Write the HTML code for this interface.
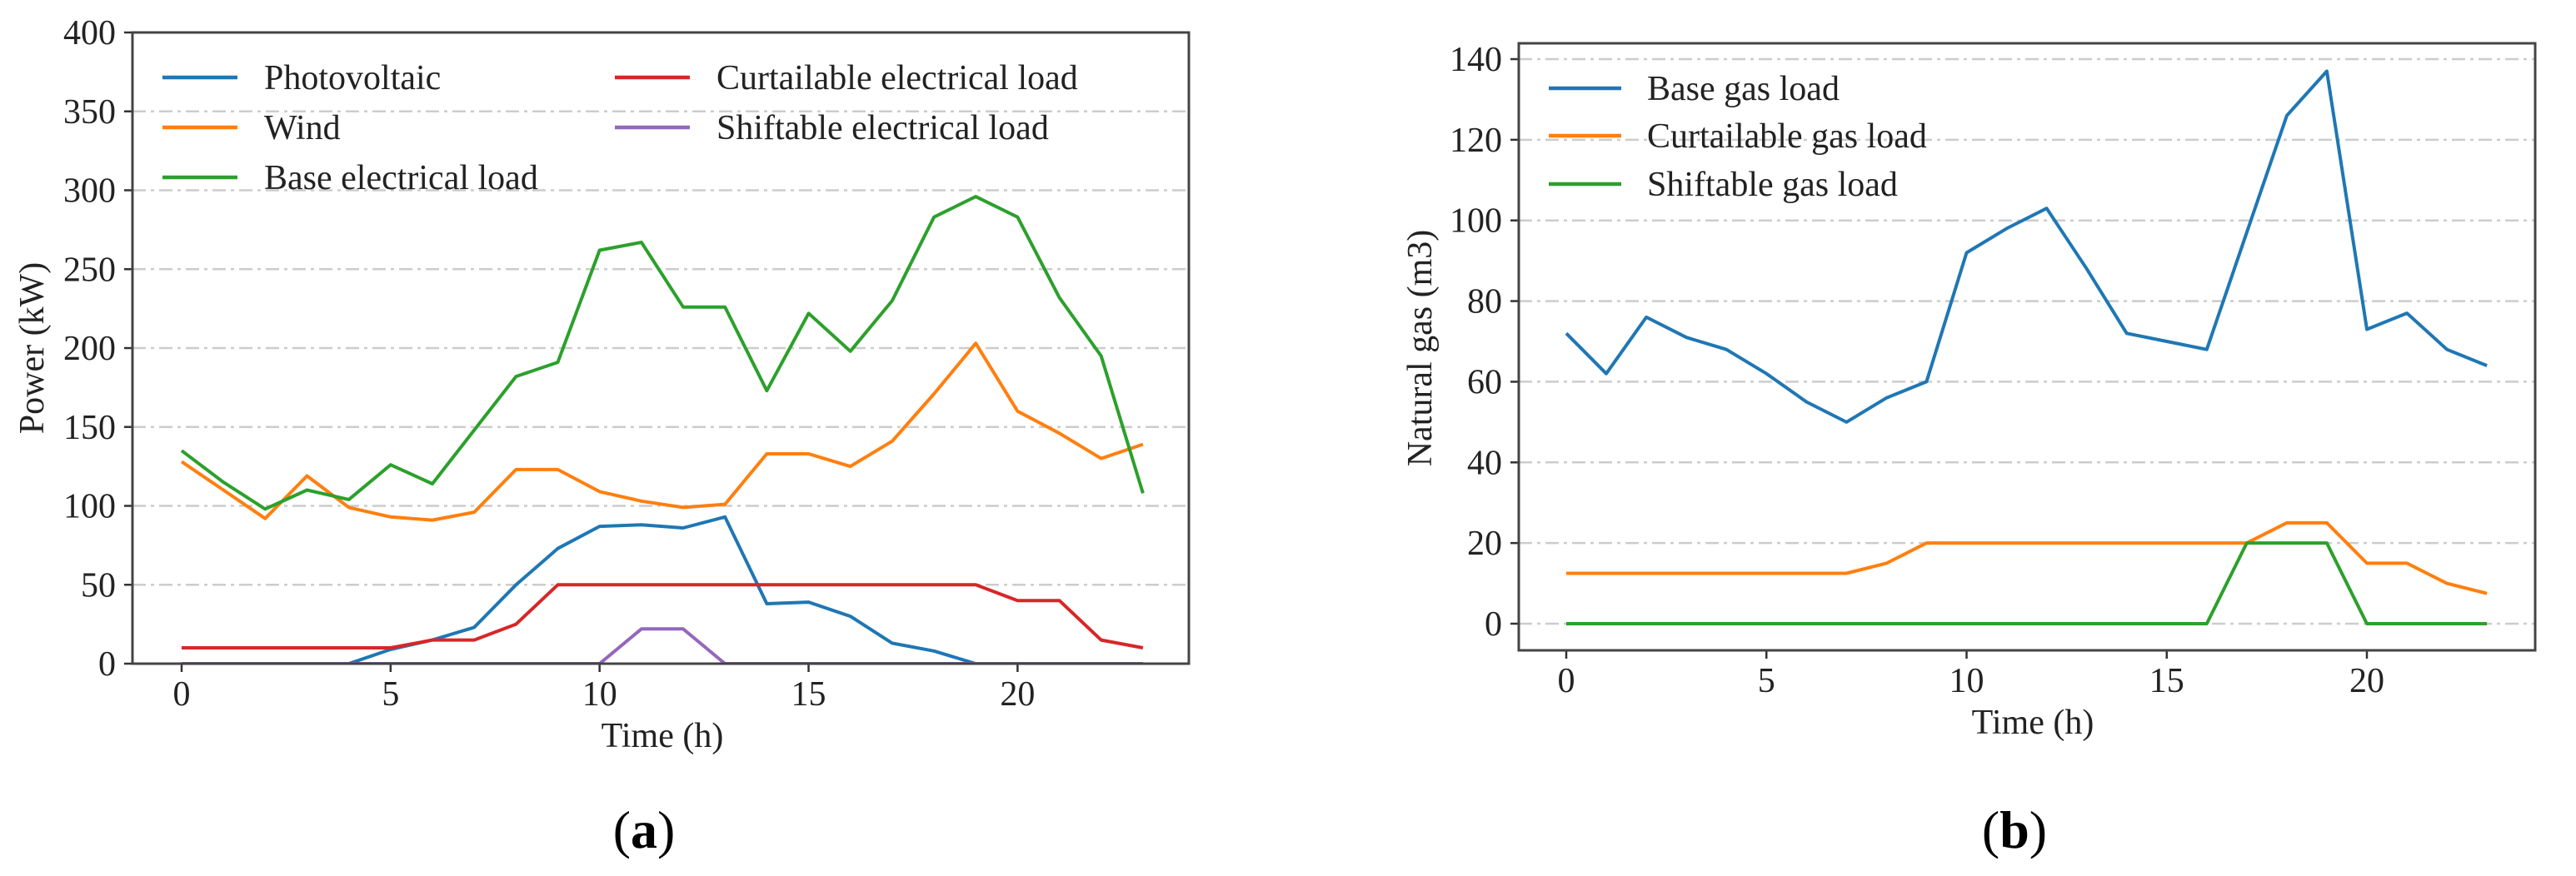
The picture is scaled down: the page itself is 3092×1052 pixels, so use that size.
<!DOCTYPE html>
<html><head><meta charset="utf-8"><style>
html,body{margin:0;padding:0;background:#fff;}
svg{display:block;font-family:"Liberation Serif",serif;}
</style></head><body>
<svg id="fig" width="3092" height="1052" viewBox="0 0 3092 1052" xmlns="http://www.w3.org/2000/svg"></svg>
<script>
const hours = [0,1,2,3,4,5,6,7,8,9,10,11,12,13,14,15,16,17,18,19,20,21,22,23];
const pvValues = [0,0,0,0,0,9,15,23,50,73,87,88,86,93,38,39,30,13,8,0,0,0,0,0];
const windValues = [128,110,92,119,99,93,91,96,123,123,109,103,99,101,133,133,125,141,171,203,160,146,130,139];
const baseElecValues = [135,115,98,110,104,126,114,148,182,191,262,267,226,226,173,222,198,230,283,296,283,232,195,108];
const curtElecValues = [10,10,10,10,10,10,15,15,25,50,50,50,50,50,50,50,50,50,50,50,40,40,15,10];
const shiftElecValues = [0,0,0,0,0,0,0,0,0,0,0,22,22,0,0,0,0,0,0,0,0,0,0,0];
const baseGasValues = [72,62,76,71,68,62,55,50,56,60,92,98,103,88,72,70,68,97,126,137,73,77,68,64];
const curtGasValues = [12.5,12.5,12.5,12.5,12.5,12.5,12.5,12.5,15,20,20,20,20,20,20,20,20,20,25,25,15,15,10,7.5];
const shiftGasValues = [0,0,0,0,0,0,0,0,0,0,0,0,0,0,0,0,0,20,20,20,0,0,0,0];
const xTicks = [0,5,10,15,20];
const yTicksA = [0,50,100,150,200,250,300,350,400];
const yTicksB = [0,20,40,60,80,100,120,140];

const NS="http://www.w3.org/2000/svg";
const svg=document.getElementById('fig');
function mk(tag,attrs,parent){const e=document.createElementNS(NS,tag);for(const k in attrs)e.setAttribute(k,attrs[k]);(parent||svg).appendChild(e);return e;}

function panel(cfg){
  const g=mk('g',{});
  
  
  const sx=h=>cfg.x0+h*cfg.xs;
  const sy=v=>cfg.y0-v*cfg.ys;
  cfg.yTicks.forEach(t=>{
    const y=sy(t);
    const l=mk('line',{x1:cfg.L,x2:cfg.R,y1:y,y2:y,stroke:'#cccccc','stroke-width':2.5,'stroke-dasharray':'16 6 4 6'},g);
    
    
    const tk=mk('line',{x1:cfg.L-10,x2:cfg.L,y1:y,y2:y,stroke:'#333','stroke-width':2.5},g);
    
    
    const tx=mk('text',{x:cfg.L-20,y:y+14,'text-anchor':'end','font-size':42,fill:'#222'},g);
    tx.textContent=t;
    
    
  });
  xTicks.forEach(t=>{
    const x=sx(t);
    const tk=mk('line',{x1:x,x2:x,y1:cfg.B,y2:cfg.B+10,stroke:'#333','stroke-width':2.5},g);
    
    
    const tx=mk('text',{x:x,y:cfg.B+50,'text-anchor':'middle','font-size':42,fill:'#222'},g);
    tx.textContent=t;
    
    
  });
  const clipId='clip'+cfg.name;
  const cp=mk('clipPath',{id:clipId},g);
  mk('rect',{x:cfg.L,y:cfg.T,width:cfg.R-cfg.L,height:cfg.B-cfg.T},cp);
  cfg.series.forEach(s=>{
    const pts=hours.map((h,i)=>sx(h).toFixed(1)+','+sy(s.vals[i]).toFixed(1)).join(' ');
    const p=mk('polyline',{points:pts,fill:'none',stroke:s.color,'stroke-width':4,'stroke-linejoin':'round','clip-path':'url(#'+clipId+')'},g);
    
    
  });
  const box=mk('rect',{x:cfg.L,y:cfg.T,width:cfg.R-cfg.L,height:cfg.B-cfg.T,fill:'none',stroke:'#444','stroke-width':3},g);
  
  
  cfg.legend.forEach(le=>{
    const l=mk('line',{x1:le.x,x2:le.x+cfg.sw,y1:le.y,y2:le.y,stroke:le.color,'stroke-width':4.5},g);
    
    
    const t=mk('text',{x:le.tx,y:le.y+14,'font-size':42,fill:'#222'},g);
    t.textContent=le.label;
    
    
  });
  const xl=mk('text',{x:cfg.xlx,y:cfg.xly,'text-anchor':'middle','font-size':42,fill:'#222'},g);
  xl.textContent='Time (h)';
  
  
  const yl=mk('text',{x:0,y:0,'text-anchor':'middle','font-size':42,fill:'#222',transform:'translate('+cfg.ylx+',418) rotate(-90)'},g);
  yl.textContent=cfg.ylabel;
  
  
  const cap=mk('text',{x:cfg.capx,y:1018,'text-anchor':'middle','font-size':64,fill:'#000'},g);
  cap.innerHTML='(<tspan font-weight="bold">'+cfg.cap+'</tspan>)';
  
  
}

panel({name:'chart-a',L:159,R:1427,T:39,B:797,x0:218,xs:50.17,y0:797,ys:758/400,yTicks:yTicksA,
  ylabel:'Power (kW)',ylx:52,capx:773,cap:'a',xlx:795,xly:897,sw:90,
  series:[
    {id:'photovoltaic',vals:pvValues,color:'#1f77b4'},
    {id:'wind',vals:windValues,color:'#ff7f0e'},
    {id:'base-electrical-load',vals:baseElecValues,color:'#2ca02c'},
    {id:'curtailable-electrical-load',vals:curtElecValues,color:'#d62728'},
    {id:'shiftable-electrical-load',vals:shiftElecValues,color:'#9467bd'}],
  legend:[
    {x:195,tx:317,y:93,color:'#1f77b4',label:'Photovoltaic'},
    {x:195,tx:317,y:153,color:'#ff7f0e',label:'Wind'},
    {x:195,tx:317,y:213,color:'#2ca02c',label:'Base electrical load'},
    {x:738,tx:860,y:93,color:'#d62728',label:'Curtailable electrical load'},
    {x:738,tx:860,y:153,color:'#9467bd',label:'Shiftable electrical load'}]
});
panel({name:'chart-b',L:1823,R:3043,T:52,B:781,x0:1880,xs:48.05,y0:749,ys:678/140,yTicks:yTicksB,
  ylabel:'Natural gas (m3)',ylx:1718,capx:2418,cap:'b',xlx:2440,xly:881,sw:87,
  series:[
    {id:'base-gas-load',vals:baseGasValues,color:'#1f77b4'},
    {id:'curtailable-gas-load',vals:curtGasValues,color:'#ff7f0e'},
    {id:'shiftable-gas-load',vals:shiftGasValues,color:'#2ca02c'}],
  legend:[
    {x:1859,tx:1977,y:106,color:'#1f77b4',label:'Base gas load'},
    {x:1859,tx:1977,y:163,color:'#ff7f0e',label:'Curtailable gas load'},
    {x:1859,tx:1977,y:221,color:'#2ca02c',label:'Shiftable gas load'}]
});
</script>
</body></html>
